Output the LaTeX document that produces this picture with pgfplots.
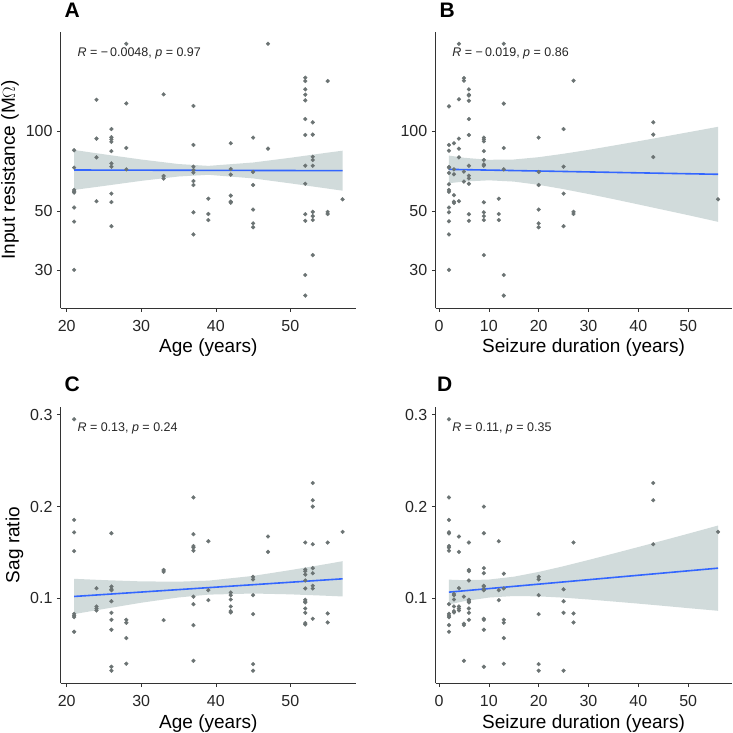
\documentclass[border=0pt]{standalone}
\usepackage{pgfplots}
\pgfplotsset{compat=1.18}
\usepackage{fontspec}
\setmainfont{Liberation Sans}
\definecolor{bandc}{RGB}{209,219,219}
\definecolor{linec}{HTML}{3366FF}
\definecolor{ptc}{HTML}{6B7373}
\definecolor{axc}{HTML}{333333}
\pgfplotsset{
  panel/.style={
    scale only axis, axis lines=left,
    axis line style={-, draw=axc, line width=0.6pt},
    tick style={draw=axc, line width=0.6pt}, tick align=outside,
    major tick length=3.7pt,
    tick label style={font=\fontsize{16}{16}\selectfont, text=black!85},
    xticklabel style={yshift=-4.5pt},
    yticklabel style={xshift=-1pt},
    label style={font=\fontsize{19}{19}\selectfont},
    xlabel style={yshift=-1pt},
    /pgf/number format/assume math mode=true,
    clip=false,
  },
  pts/.style={only marks, mark=*, mark size=1.9pt, color=ptc, mark options={solid, fill=ptc, draw=none}},
  band/.style={fill=bandc, draw=none},
  fitline/.style={color=linec, line width=1.6pt, no marks},
}
\tikzset{ann/.style={anchor=west, font=\fontsize{12.5}{12.5}\selectfont, text=black!85}}
\begin{document}
\begin{tikzpicture}
\path[use as bounding box] (0pt,0pt) rectangle (733pt,732pt);
% ---------------- A ----------------
\begin{axis}[panel, at={(60.7pt,423.7pt)}, anchor=south west, width=295.3pt, height=276.6pt,
  xmin=19.2, xmax=58.8, xtick={20,30,40,50},
  ymode=log, ymin=21.5, ymax=236.5, ytick={30,50,100}, yticklabels={30,50,100},
  xlabel={Age (years)}, ylabel={Input resistance (M$\Omega$)}]
\addplot[band] coordinates {(21,84.8)(25,81.7)(30,78.1)(35,75.1)(39,73.9)(45,76.1)(50,79.3)(55,82.9)(57,84.3)
 (57,59.6)(55,60.7)(50,63.5)(45,66.3)(39,68.4)(35,67.4)(30,64.9)(25,62.1)(21,60.0)};
\addplot[pts] coordinates {
(21,84.6)(21,72.8)(21,60.0)(21,59.3)(21,58.6)(21,51.5)(21,45.6)(21,30.0)
(24,131.1)(24,93.6)(24,79.6)(24,54.4)
(26,101.7)(26,94.7)(26,93.0)(26,91.0)(26,84.0)(26,75.5)(26,73.4)(26,58.1)(26,54.0)(26,43.8)
(28,213)(28,127.0)(28,86.3)(28,71.7)
(33,137.4)(33,67.7)(33,66.2)
(37,124.2)(37,88.6)(37,73.4)(37,71.3)(37,69.7)(37,64.8)(37,62.6)(37,49.4)(37,40.8)
(39,55.6)(39,48.7)(39,46.2)
(42,89.9)(42,71.9)(42,68.5)(42,57.1)(42,54.2)(42,53.7)
(45,94.4)(45,70.1)(45,62.6)(45,50.6)(45,44.9)(45,43.4)
(47,213)(47,85.8)
(52,158.7)(52,154.2)(52,143.5)(52,137.0)(52,130.4)(52,110.9)(52,96.6)(52,74.0)(52,63.3)(52,48.6)(52,45.9)(52,28.7)(52,24.0)
(53,107.8)(53,96.9)(53,80.0)(53,77.8)(53,74.0)(53,49.6)(53,47.8)(53,46.2)(53,34.1)
(55,154.2)(55,49.6)(55,48.7)
(57,55.3)};
\addplot[fitline] coordinates {(21,71.3)(57,70.9)};
\node[ann] at (rel axis cs:0.045,0.922) {\textit{R} = −\,0.0048, \textit{p} = 0.97};
\end{axis}
% ---------------- B ----------------
\begin{axis}[panel, at={(435.5pt,423.7pt)}, anchor=south west, width=296pt, height=276.6pt,
  xmin=-0.7, xmax=58.7, xtick={0,10,20,30,40,50},
  ymode=log, ymin=21.5, ymax=236.5, ytick={30,50,100}, yticklabels={30,50,100},
  xlabel={Seizure duration (years)}]
\addplot[band] coordinates {(2,80.8)(5,79.3)(10,77.9)(15,78.1)(20,79.7)(25,82.1)(30,84.9)(35,88.1)(40,91.5)(45,95.1)(50,98.9)(56,103.7)
 (56,45.5)(50,48.2)(45,50.5)(40,52.9)(35,55.4)(30,57.9)(25,60.4)(20,62.7)(15,64.5)(10,65.2)(5,64.5)(2,63.6)};
\addplot[pts] coordinates {
(2,123.8)(2,88.6)(2,84.3)(2,73.2)(2,72.8)(2,69.5)(2,63.0)(2,60.0)(2,59.0)(2,51.5)(2,49.4)(2,45.7)(2,40.8)(2,30.0)
(3,89.9)(3,71.7)(3,68.7)(3,57.3)(3,54.2)(3,53.6)
(4,213)(4,131.6)(4,93.6)(4,85.8)(4,79.6)(4,54.4)
(5,158.2)(5,154.7)(5,70.3)(5,64.5)
(6,143.5)(6,137.0)(6,136.0)(6,130.0)(6,110.9)(6,96.6)(6,74.0)(6,67.9)(6,66.3)(6,63.3)(6,48.6)(6,45.9)
(9,94.4)(9,93.0)(9,91.4)(9,84.0)(9,77.8)(9,74.9)(9,74.0)(9,53.9)(9,49.4)(9,47.8)(9,46.2)(9,34.1)
(12,55.6)(12,48.7)(12,46.2)
(13,213)(13,126.8)(13,86.3)(13,71.7)(13,28.7)(13,24.0)
(20,94.4)(20,70.1)(20,62.6)(20,50.6)(20,44.9)(20,43.4)
(25,101.7)(25,73.4)(25,58.1)(25,43.8)
(27,154.7)(27,49.6)(27,48.7)
(43,107.8)(43,96.9)(43,79.8)
(56,55.3)};
\addplot[fitline] coordinates {(2,71.7)(56,68.7)};
\node[ann] at (rel axis cs:0.045,0.922) {\textit{R} = −\,0.019, \textit{p} = 0.86};
\end{axis}
% ---------------- C ----------------
\begin{axis}[panel, at={(60.7pt,48.7pt)}, anchor=south west, width=295.3pt, height=276.6pt,
  xmin=19.2, xmax=58.8, xtick={20,30,40,50},
  ymin=0.0077, ymax=0.3087, ytick={0.1,0.2,0.3}, yticklabels={0.1,0.2,0.3},
  xlabel={Age (years)}, ylabel={Sag ratio}]
\addplot[band] coordinates {(21,0.1214)(25,0.1200)(30,0.1186)(35,0.1183)(39,0.1194)(45,0.1246)(50,0.1309)(55,0.1377)(57,0.1406)
 (57,0.1022)(55,0.1029)(50,0.1045)(45,0.1054)(39,0.1042)(35,0.1011)(30,0.0954)(25,0.0886)(21,0.0830)};
\addplot[pts] coordinates {
(21,0.295)(21,0.1855)(21,0.172)(21,0.1515)(21,0.0833)(21,0.0812)(21,0.0797)(21,0.0638)
(24,0.1112)(24,0.0913)(24,0.0891)(24,0.0870)
(26,0.171)(26,0.113)(26,0.110)(26,0.109)(26,0.097)(26,0.0844)(26,0.0768)(26,0.066)(26,0.0257)(26,0.0214)
(28,0.0768)(28,0.0736)(28,0.0569)(28,0.029)
(33,0.131)(33,0.129)(33,0.0764)
(37,0.210)(37,0.170)(37,0.157)(37,0.1554)(37,0.152)(37,0.102)(37,0.0938)(37,0.071)(37,0.0322)
(39,0.1623)(39,0.109)(39,0.0982)
(42,0.1065)(42,0.1036)(42,0.0989)(42,0.0913)(42,0.0862)(42,0.0848)
(45,0.1236)(45,0.1207)(45,0.1036)(45,0.083)(45,0.0286)(45,0.0214)
(47,0.1674)(47,0.1507)
(52,0.1609)(52,0.1315)(52,0.1297)(52,0.126)(52,0.1196)(52,0.1109)(52,0.0986)(52,0.0971)(52,0.0957)(52,0.0891)(52,0.0844)(52,0.0732)(52,0.0717)
(53,0.2257)(53,0.2069)(53,0.200)(53,0.159)(53,0.133)(53,0.1275)(53,0.1138)(53,0.1109)(53,0.0779)
(55,0.1609)(55,0.0837)(55,0.0739)
(57,0.1725)};
\addplot[fitline] coordinates {(21,0.1022)(57,0.1214)};
\node[ann] at (rel axis cs:0.045,0.922) {\textit{R} = 0.13, \textit{p} = 0.24};
\end{axis}
% ---------------- D ----------------
\begin{axis}[panel, at={(435.5pt,48.7pt)}, anchor=south west, width=296pt, height=276.6pt,
  xmin=-0.7, xmax=58.7, xtick={0,10,20,30,40,50},
  ymin=0.0077, ymax=0.3087, ytick={0.1,0.2,0.3}, yticklabels={0.1,0.2,0.3},
  xlabel={Seizure duration (years)}]
\addplot[band] coordinates {(2,0.1205)(5,0.1199)(10,0.1206)(15,0.1237)(20,0.1289)(25,0.1351)(30,0.1419)(35,0.1489)(40,0.1560)(45,0.1632)(50,0.1705)(56,0.1794)
 (56,0.0866)(50,0.0895)(45,0.0920)(40,0.0944)(35,0.0967)(30,0.0989)(25,0.1009)(20,0.1023)(15,0.1027)(10,0.1010)(5,0.0970)(2,0.0935)};
\addplot[pts] coordinates {
(2,0.295)(2,0.210)(2,0.1855)(2,0.172)(2,0.1707)(2,0.157)(2,0.1554)(2,0.152)(2,0.0938)(2,0.0833)(2,0.0812)(2,0.0797)(2,0.071)(2,0.0638)
(3,0.105)(3,0.1036)(3,0.0989)(3,0.0913)(3,0.0862)(3,0.0848)
(4,0.1674)(4,0.1507)(4,0.1112)(4,0.0913)(4,0.0891)(4,0.087)
(5,0.102)(5,0.0725)(5,0.071)(5,0.0322)
(6,0.1609)(6,0.131)(6,0.1297)(6,0.1196)(6,0.0986)(6,0.097)(6,0.0957)(6,0.0891)(6,0.0844)(6,0.0768)
(9,0.200)(9,0.171)(9,0.133)(9,0.1275)(9,0.1138)(9,0.113)(9,0.110)(9,0.109)(9,0.0779)(9,0.0768)(9,0.066)(9,0.0257)
(12,0.1623)(12,0.109)(12,0.0982)
(13,0.127)(13,0.1109)(13,0.0768)(13,0.0736)(13,0.0569)(13,0.029)
(20,0.1236)(20,0.1207)(20,0.1036)(20,0.083)(20,0.0286)(20,0.0214)
(25,0.110)(25,0.097)(25,0.0844)(25,0.0214)
(27,0.1609)(27,0.0837)(27,0.0739)
(43,0.2257)(43,0.2069)(43,0.159)
(56,0.1725)};
\addplot[fitline] coordinates {(2,0.1069)(56,0.1330)};
\node[ann] at (rel axis cs:0.045,0.922) {\textit{R} = 0.11, \textit{p} = 0.35};
\end{axis}
% panel letters
\node[anchor=base west, font=\fontsize{21}{21}\selectfont\bfseries] at (61pt,714.7pt) {A};
\node[anchor=base west, font=\fontsize{21}{21}\selectfont\bfseries] at (436pt,714.7pt) {B};
\node[anchor=base west, font=\fontsize{21}{21}\selectfont\bfseries] at (61pt,340.3pt) {C};
\node[anchor=base west, font=\fontsize{21}{21}\selectfont\bfseries] at (433.5pt,340.3pt) {D};
\end{tikzpicture}
\end{document}
